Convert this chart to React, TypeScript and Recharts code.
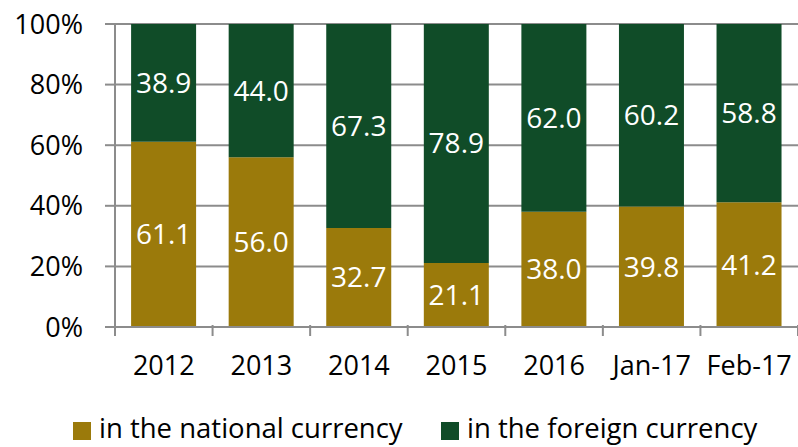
import { Bar, BarChart, CartesianGrid, LabelList, Legend, XAxis, YAxis } from 'recharts'

const periods = ['2012', '2013', '2014', '2015', '2016', 'Jan-17', 'Feb-17']
const national = [61.1, 56.0, 32.7, 21.1, 38.0, 39.8, 41.2]
const foreign = [38.9, 44.0, 67.3, 78.9, 62.0, 60.2, 58.8]
const yTicks = [0, 20, 40, 60, 80, 100]

const GOLD = '#9b7a0b'
const GREEN = '#104c28'
const AXIS = '#8c8c8c'
const FONT = '"Open Sans", sans-serif'

const data = periods.map((p, i) => ({ period: p, national: national[i], foreign: foreign[i] }))

const series = [
  { key: 'national', name: 'in the national currency', color: GOLD },
  { key: 'foreign', name: 'in the foreign currency', color: GREEN },
]

// Excel-style category ticks: marks sit on the boundaries between categories
function CategoryTick(props: any) {
  const { x, y, payload, index, visibleTicksCount } = props
  const band = 683 / 7
  const left = x - band / 2
  return (
    <g>
      <line x1={left} x2={left} y1={y - 10} y2={y + 1} stroke={AXIS} strokeWidth={2} />
      {index === visibleTicksCount - 1 && (
        <line x1={left + band} x2={left + band} y1={y - 10} y2={y + 1} stroke={AXIS} strokeWidth={2} />
      )}
      <text x={x} y={y + 40} textAnchor="middle" fontSize={27} fill="#000" fontFamily={FONT}>
        {payload.value}
      </text>
    </g>
  )
}

function LegendContent() {
  const text = { position: 'absolute' as const, top: 17, lineHeight: '27px', whiteSpace: 'nowrap' as const }
  return (
    <div style={{ position: 'relative', height: 50, fontFamily: FONT, fontSize: 27.5, color: '#000' }}>
      <span style={{ position: 'absolute', left: 73, top: 25, width: 18, height: 18, background: GOLD }} />
      <span style={{ ...text, left: 99 }}>{series[0].name}</span>
      <span style={{ position: 'absolute', left: 441, top: 25, width: 18, height: 18, background: GREEN }} />
      <span style={{ ...text, left: 467 }}>{series[1].name}</span>
    </div>
  )
}

export default function App() {
  return (
    <div style={{ position: 'absolute', left: 0, top: 0, width: 798, height: 447, background: '#fff' }}>
      <BarChart
        width={798}
        height={447}
        data={data}
        margin={{ top: 24, right: 0, left: 0, bottom: 0 }}
        barCategoryGap="16.5%"
      >
        <CartesianGrid vertical={false} stroke={AXIS} strokeWidth={2} />
        <XAxis
          dataKey="period"
          axisLine={{ stroke: AXIS, strokeWidth: 2 }}
          tickLine={false}
          tick={<CategoryTick />}
          height={70}
          interval={0}
        />
        <YAxis
          width={115}
          domain={[0, 100]}
          ticks={yTicks}
          tickFormatter={(v: number) => `${v}%`}
          axisLine={{ stroke: AXIS, strokeWidth: 2 }}
          tickLine={{ stroke: AXIS, strokeWidth: 2 }}
          tickSize={10}
          tickMargin={22}
          tick={{ fontSize: 27, fill: '#000', fontFamily: FONT }}
          allowDataOverflow
        />
        <Legend verticalAlign="bottom" height={50} content={<LegendContent />} />
        {series.map((s) => (
          <Bar key={s.key} dataKey={s.key} name={s.name} stackId="a" fill={s.color} isAnimationActive={false}>
            <LabelList
              dataKey={s.key}
              position="center"
              fill="#fff"
              fontSize={28}
              fontFamily={FONT}
              formatter={(v: number) => v.toFixed(1)}
            />
          </Bar>
        ))}
      </BarChart>
    </div>
  )
}
